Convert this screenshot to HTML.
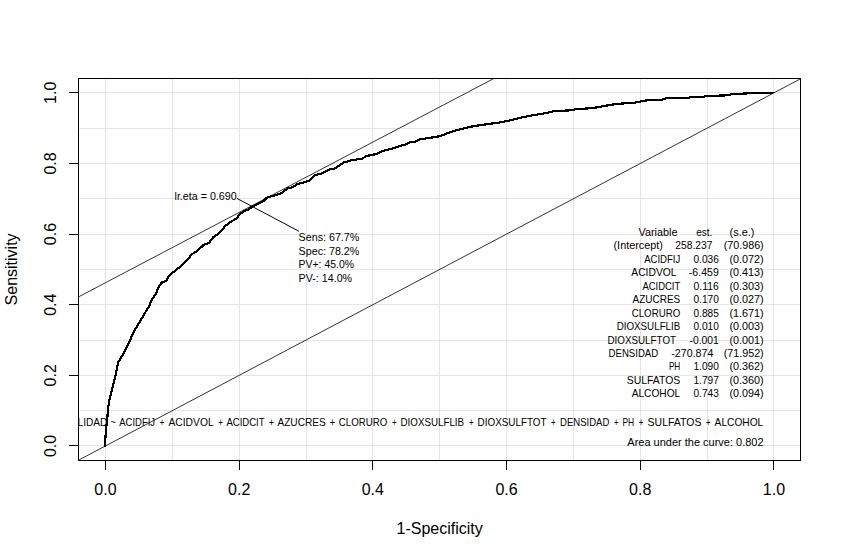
<!DOCTYPE html>
<html><head><meta charset="utf-8"><style>html,body{margin:0;padding:0;background:#fff;width:841px;height:558px;overflow:hidden}</style></head><body><svg width="841" height="558" viewBox="0 0 841 558" style="display:block;font-family:'Liberation Sans',sans-serif"><g stroke="#e5e5e5" stroke-width="1" shape-rendering="crispEdges"><line x1="105.5" y1="79" x2="105.5" y2="460" /><line x1="79" y1="445.5" x2="800" y2="445.5" /><line x1="172.5" y1="79" x2="172.5" y2="460" /><line x1="79" y1="410.5" x2="800" y2="410.5" /><line x1="239.5" y1="79" x2="239.5" y2="460" /><line x1="79" y1="375.5" x2="800" y2="375.5" /><line x1="306.5" y1="79" x2="306.5" y2="460" /><line x1="79" y1="340.5" x2="800" y2="340.5" /><line x1="372.5" y1="79" x2="372.5" y2="460" /><line x1="79" y1="304.5" x2="800" y2="304.5" /><line x1="439.5" y1="79" x2="439.5" y2="460" /><line x1="79" y1="269.5" x2="800" y2="269.5" /><line x1="506.5" y1="79" x2="506.5" y2="460" /><line x1="79" y1="234.5" x2="800" y2="234.5" /><line x1="573.5" y1="79" x2="573.5" y2="460" /><line x1="79" y1="198.5" x2="800" y2="198.5" /><line x1="640.5" y1="79" x2="640.5" y2="460" /><line x1="79" y1="163.5" x2="800" y2="163.5" /><line x1="707.5" y1="79" x2="707.5" y2="460" /><line x1="79" y1="128.5" x2="800" y2="128.5" /><line x1="773.5" y1="79" x2="773.5" y2="460" /><line x1="79" y1="92.5" x2="800" y2="92.5" /></g><rect x="78.5" y="78.5" width="722" height="382" fill="none" stroke="#000" stroke-width="1" shape-rendering="crispEdges"/><g stroke="#000" stroke-width="1" shape-rendering="crispEdges"><line x1="105.5" y1="460" x2="105.5" y2="470" /><line x1="69" y1="445.5" x2="79" y2="445.5" /><line x1="239.5" y1="460" x2="239.5" y2="470" /><line x1="69" y1="375.5" x2="79" y2="375.5" /><line x1="372.5" y1="460" x2="372.5" y2="470" /><line x1="69" y1="304.5" x2="79" y2="304.5" /><line x1="506.5" y1="460" x2="506.5" y2="470" /><line x1="69" y1="234.5" x2="79" y2="234.5" /><line x1="640.5" y1="460" x2="640.5" y2="470" /><line x1="69" y1="163.5" x2="79" y2="163.5" /><line x1="773.5" y1="460" x2="773.5" y2="470" /><line x1="69" y1="92.5" x2="79" y2="92.5" /></g><defs><clipPath id="pr"><rect x="78.72" y="78.72" width="721.96" height="381.36"/></clipPath></defs><g clip-path="url(#pr)"><line x1="78.72" y1="460.08" x2="800.68" y2="78.72" stroke="#333" stroke-width="1"/><line x1="78.72" y1="296.8" x2="493.4" y2="78.72" stroke="#333" stroke-width="1"/><path d="M105.3,446.5 L105.3,438.9 L106.4,426.0 L107.5,416.3 L107.9,409.3 L109.3,400.7 L113.6,383.5 L117.2,367.7 L117.9,362.7 L123.6,353.4 L126.5,348.0 L129.3,342.2 L132.9,333.6 L134.3,330.8 L140.1,321.4 L143.7,315.0 L149.4,305.7 L150.8,301.3 L155.9,293.5 L159.5,285.6 L162.3,282.0 L165.9,281.3 L168.8,276.2 L172.5,272.8 L178.1,268.4 L182.1,265.0 L188.8,258.3 L190.8,254.9 L198.2,250.2 L203.6,244.9 L209,242.8 L213,237.5 L220.4,232.1 L225.1,226.0 L230.5,222.0 L237.2,218.0 L239.2,214.6 L245.3,210.6 L248.2,209.8 L251.5,207.1 L257.9,203.9 L263.8,200.7 L266.5,198.0 L273,195.8 L280.5,193.7 L288,188.3 L292.3,187.2 L297.7,184.0 L309.5,180.8 L314.9,174.9 L321.3,173.8 L326.7,171.1 L330,169.4 L335.4,168.3 L343.9,162.4 L351.4,160.3 L362.1,158.7 L366.4,156.0 L377.1,153.9 L383.5,150.7 L394.2,148.0 L406,144.2 L410.3,142.1 L415.7,141.6 L419.8,139.4 L438.8,136.4 L455.4,130.5 L469.7,126.9 L480.4,125.1 L498.2,122.7 L510.1,120.4 L521.9,117.5 L533.8,115.1 L544.5,113.3 L555.2,111.0 L569.5,110.4 L576.6,109.2 L593.2,108.0 L610,105.0 L616.9,103.9 L634.7,102.7 L646.6,100.4 L662.1,99.8 L666.8,98.0 L688.2,98.0 L690.6,97.0 L700,97.1 L708.3,96.0 L725,95.4 L732.1,94.2 L748.8,93.3 L769,92.8 L773.5,93.0" fill="none" stroke="#000" stroke-width="2.2" stroke-linejoin="round" shape-rendering="crispEdges"/><line x1="236.9" y1="198.4" x2="299" y2="231.3" stroke="#000" stroke-width="1"/><text x="110.30" y="425.90" font-size="10.7" textLength="5.60" lengthAdjust="spacingAndGlyphs" xml:space="preserve">~</text><text x="119.20" y="425.90" font-size="10.7" textLength="35.90" lengthAdjust="spacingAndGlyphs" xml:space="preserve">ACIDFIJ</text><text x="159.70" y="425.90" font-size="10.7" textLength="4.60" lengthAdjust="spacingAndGlyphs" xml:space="preserve">+</text><text x="168.50" y="425.90" font-size="10.7" textLength="45.10" lengthAdjust="spacingAndGlyphs" xml:space="preserve">ACIDVOL</text><text x="218.20" y="425.90" font-size="10.7" textLength="4.60" lengthAdjust="spacingAndGlyphs" xml:space="preserve">+</text><text x="226.40" y="425.90" font-size="10.7" textLength="38.20" lengthAdjust="spacingAndGlyphs" xml:space="preserve">ACIDCIT</text><text x="268.90" y="425.90" font-size="10.7" textLength="5.00" lengthAdjust="spacingAndGlyphs" xml:space="preserve">+</text><text x="277.40" y="425.90" font-size="10.7" textLength="48.40" lengthAdjust="spacingAndGlyphs" xml:space="preserve">AZUCRES</text><text x="329.70" y="425.90" font-size="10.7" textLength="5.30" lengthAdjust="spacingAndGlyphs" xml:space="preserve">+</text><text x="338.80" y="425.90" font-size="10.7" textLength="48.50" lengthAdjust="spacingAndGlyphs" xml:space="preserve">CLORURO</text><text x="391.90" y="425.90" font-size="10.7" textLength="4.60" lengthAdjust="spacingAndGlyphs" xml:space="preserve">+</text><text x="400.50" y="425.90" font-size="10.7" textLength="63.60" lengthAdjust="spacingAndGlyphs" xml:space="preserve">DIOXSULFLIB</text><text x="468.90" y="425.90" font-size="10.7" textLength="4.60" lengthAdjust="spacingAndGlyphs" xml:space="preserve">+</text><text x="477.60" y="425.90" font-size="10.7" textLength="68.90" lengthAdjust="spacingAndGlyphs" xml:space="preserve">DIOXSULFTOT</text><text x="551.10" y="425.90" font-size="10.7" textLength="4.60" lengthAdjust="spacingAndGlyphs" xml:space="preserve">+</text><text x="560.00" y="425.90" font-size="10.7" textLength="49.30" lengthAdjust="spacingAndGlyphs" xml:space="preserve">DENSIDAD</text><text x="613.90" y="425.90" font-size="10.7" textLength="4.50" lengthAdjust="spacingAndGlyphs" xml:space="preserve">+</text><text x="622.40" y="425.90" font-size="10.7" textLength="11.70" lengthAdjust="spacingAndGlyphs" xml:space="preserve">PH</text><text x="638.70" y="425.90" font-size="10.7" textLength="4.60" lengthAdjust="spacingAndGlyphs" xml:space="preserve">+</text><text x="647.60" y="425.90" font-size="10.7" textLength="53.90" lengthAdjust="spacingAndGlyphs" xml:space="preserve">SULFATOS</text><text x="706.10" y="425.90" font-size="10.7" textLength="4.50" lengthAdjust="spacingAndGlyphs" xml:space="preserve">+</text><text x="714.60" y="425.90" font-size="10.7" textLength="48.70" lengthAdjust="spacingAndGlyphs" xml:space="preserve">ALCOHOL</text><text x="63.49" y="425.90" font-size="10.7" textLength="43.91" lengthAdjust="spacingAndGlyphs" xml:space="preserve">CALIDAD</text></g><g fill="#000"><text x="105.46" y="494.7" font-size="16" text-anchor="middle">0.0</text><text transform="translate(56.1,445.95) rotate(-90)" font-size="16" text-anchor="middle">0.0</text><text x="239.16" y="494.7" font-size="16" text-anchor="middle">0.2</text><text transform="translate(56.1,375.33) rotate(-90)" font-size="16" text-anchor="middle">0.2</text><text x="372.85" y="494.7" font-size="16" text-anchor="middle">0.4</text><text transform="translate(56.1,304.71) rotate(-90)" font-size="16" text-anchor="middle">0.4</text><text x="506.55" y="494.7" font-size="16" text-anchor="middle">0.6</text><text transform="translate(56.1,234.08) rotate(-90)" font-size="16" text-anchor="middle">0.6</text><text x="640.24" y="494.7" font-size="16" text-anchor="middle">0.8</text><text transform="translate(56.1,163.46) rotate(-90)" font-size="16" text-anchor="middle">0.8</text><text x="773.94" y="494.7" font-size="16" text-anchor="middle">1.0</text><text transform="translate(56.1,92.84) rotate(-90)" font-size="16" text-anchor="middle">1.0</text><text x="439.7" y="533.7" font-size="16" text-anchor="middle">1-Specificity</text><text transform="translate(17.4,269.4) rotate(-90)" font-size="16" text-anchor="middle">Sensitivity</text><text x="174.50" y="199.50" font-size="10.7" textLength="62.20" lengthAdjust="spacingAndGlyphs" xml:space="preserve">lr.eta = 0.690</text><text x="298.60" y="240.70" font-size="10.7" textLength="60.70" lengthAdjust="spacingAndGlyphs" xml:space="preserve">Sens: 67.7%</text><text x="298.60" y="254.50" font-size="10.7" textLength="60.70" lengthAdjust="spacingAndGlyphs" xml:space="preserve">Spec: 78.2%</text><text x="298.60" y="268.00" font-size="10.7" textLength="55.40" lengthAdjust="spacingAndGlyphs" xml:space="preserve">PV+: 45.0%</text><text x="298.60" y="281.70" font-size="10.7" textLength="53.50" lengthAdjust="spacingAndGlyphs" xml:space="preserve">PV-: 14.0%</text><text x="638.50" y="236.00" font-size="10.7" textLength="39.00" lengthAdjust="spacingAndGlyphs" xml:space="preserve">Variable</text><text x="696.30" y="236.00" font-size="10.7" textLength="16.10" lengthAdjust="spacingAndGlyphs" xml:space="preserve">est.</text><text x="729.50" y="236.00" font-size="10.7" textLength="25.00" lengthAdjust="spacingAndGlyphs" xml:space="preserve">(s.e.)</text><text x="613.50" y="249.44" font-size="10.7" textLength="49.50" lengthAdjust="spacingAndGlyphs" xml:space="preserve">(Intercept)</text><text x="675.30" y="249.44" font-size="10.7" textLength="37.10" lengthAdjust="spacingAndGlyphs" xml:space="preserve">258.237</text><text x="723.70" y="249.44" font-size="10.7" textLength="40.00" lengthAdjust="spacingAndGlyphs" xml:space="preserve">(70.986)</text><text x="644.20" y="262.89" font-size="10.7" textLength="36.00" lengthAdjust="spacingAndGlyphs" xml:space="preserve">ACIDFIJ</text><text x="693.50" y="262.89" font-size="10.7" textLength="25.30" lengthAdjust="spacingAndGlyphs" xml:space="preserve">0.036</text><text x="729.50" y="262.89" font-size="10.7" textLength="34.21" lengthAdjust="spacingAndGlyphs" xml:space="preserve">(0.072)</text><text x="631.30" y="276.33" font-size="10.7" textLength="45.20" lengthAdjust="spacingAndGlyphs" xml:space="preserve">ACIDVOL</text><text x="688.80" y="276.33" font-size="10.7" textLength="30.00" lengthAdjust="spacingAndGlyphs" xml:space="preserve">-6.459</text><text x="729.50" y="276.33" font-size="10.7" textLength="34.21" lengthAdjust="spacingAndGlyphs" xml:space="preserve">(0.413)</text><text x="642.40" y="289.77" font-size="10.7" textLength="37.90" lengthAdjust="spacingAndGlyphs" xml:space="preserve">ACIDCIT</text><text x="693.50" y="289.77" font-size="10.7" textLength="25.30" lengthAdjust="spacingAndGlyphs" xml:space="preserve">0.116</text><text x="729.50" y="289.77" font-size="10.7" textLength="34.21" lengthAdjust="spacingAndGlyphs" xml:space="preserve">(0.303)</text><text x="632.50" y="303.22" font-size="10.7" textLength="47.80" lengthAdjust="spacingAndGlyphs" xml:space="preserve">AZUCRES</text><text x="693.50" y="303.22" font-size="10.7" textLength="25.30" lengthAdjust="spacingAndGlyphs" xml:space="preserve">0.170</text><text x="729.50" y="303.22" font-size="10.7" textLength="34.21" lengthAdjust="spacingAndGlyphs" xml:space="preserve">(0.027)</text><text x="631.70" y="316.66" font-size="10.7" textLength="48.60" lengthAdjust="spacingAndGlyphs" xml:space="preserve">CLORURO</text><text x="693.50" y="316.66" font-size="10.7" textLength="25.30" lengthAdjust="spacingAndGlyphs" xml:space="preserve">0.885</text><text x="729.50" y="316.66" font-size="10.7" textLength="34.21" lengthAdjust="spacingAndGlyphs" xml:space="preserve">(1.671)</text><text x="616.70" y="330.10" font-size="10.7" textLength="63.60" lengthAdjust="spacingAndGlyphs" xml:space="preserve">DIOXSULFLIB</text><text x="693.50" y="330.10" font-size="10.7" textLength="25.30" lengthAdjust="spacingAndGlyphs" xml:space="preserve">0.010</text><text x="729.50" y="330.10" font-size="10.7" textLength="34.21" lengthAdjust="spacingAndGlyphs" xml:space="preserve">(0.003)</text><text x="607.50" y="343.54" font-size="10.7" textLength="68.50" lengthAdjust="spacingAndGlyphs" xml:space="preserve">DIOXSULFTOT</text><text x="689.50" y="343.54" font-size="10.7" textLength="29.30" lengthAdjust="spacingAndGlyphs" xml:space="preserve">-0.001</text><text x="729.50" y="343.54" font-size="10.7" textLength="34.21" lengthAdjust="spacingAndGlyphs" xml:space="preserve">(0.001)</text><text x="608.60" y="356.99" font-size="10.7" textLength="49.60" lengthAdjust="spacingAndGlyphs" xml:space="preserve">DENSIDAD</text><text x="671.30" y="356.99" font-size="10.7" textLength="42.10" lengthAdjust="spacingAndGlyphs" xml:space="preserve">-270.874</text><text x="723.70" y="356.99" font-size="10.7" textLength="40.00" lengthAdjust="spacingAndGlyphs" xml:space="preserve">(71.952)</text><text x="668.90" y="370.43" font-size="10.7" textLength="11.40" lengthAdjust="spacingAndGlyphs" xml:space="preserve">PH</text><text x="693.50" y="370.43" font-size="10.7" textLength="25.30" lengthAdjust="spacingAndGlyphs" xml:space="preserve">1.090</text><text x="729.50" y="370.43" font-size="10.7" textLength="34.21" lengthAdjust="spacingAndGlyphs" xml:space="preserve">(0.362)</text><text x="626.80" y="383.87" font-size="10.7" textLength="53.50" lengthAdjust="spacingAndGlyphs" xml:space="preserve">SULFATOS</text><text x="693.50" y="383.87" font-size="10.7" textLength="25.30" lengthAdjust="spacingAndGlyphs" xml:space="preserve">1.797</text><text x="729.50" y="383.87" font-size="10.7" textLength="34.21" lengthAdjust="spacingAndGlyphs" xml:space="preserve">(0.360)</text><text x="631.70" y="397.32" font-size="10.7" textLength="48.60" lengthAdjust="spacingAndGlyphs" xml:space="preserve">ALCOHOL</text><text x="693.50" y="397.32" font-size="10.7" textLength="25.30" lengthAdjust="spacingAndGlyphs" xml:space="preserve">0.743</text><text x="729.50" y="397.32" font-size="10.7" textLength="34.21" lengthAdjust="spacingAndGlyphs" xml:space="preserve">(0.094)</text><text x="627.30" y="445.90" font-size="10.7" textLength="136.30" lengthAdjust="spacingAndGlyphs" xml:space="preserve">Area under the curve: 0.802</text></g></svg></body></html>
